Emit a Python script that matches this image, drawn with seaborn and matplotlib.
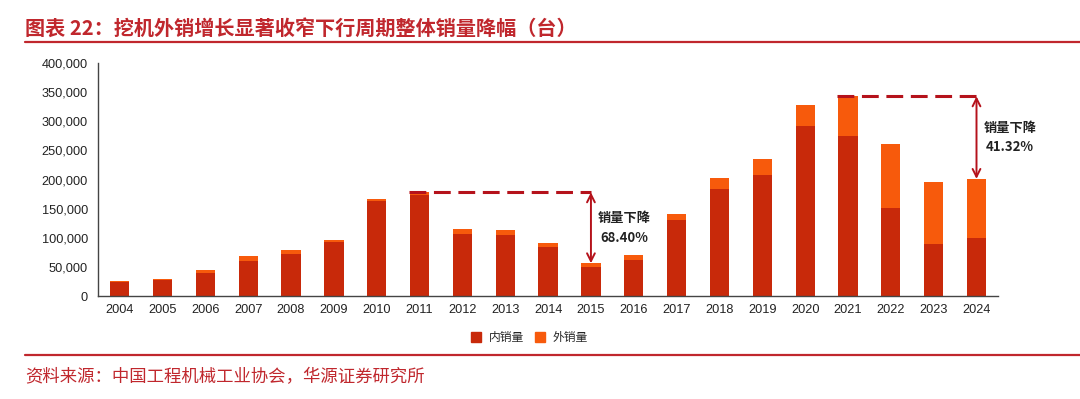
import matplotlib
matplotlib.use("Agg")
import matplotlib.pyplot as plt
from matplotlib.ticker import FuncFormatter, FixedLocator
from matplotlib.lines import Line2D
import seaborn as sns
import pandas as pd

years = [str(y) for y in range(2004, 2025)]
domestic = [24000, 28000, 39500, 60500, 72000, 93000, 163500, 173000, 106000, 104000,
            84000, 49800, 62000, 130000, 184000, 208000, 292000, 274400, 151500, 89000, 100500]
total = [26000, 29500, 45500, 68000, 78500, 95500, 167000, 178000, 115500, 113000,
         90500, 56300, 70300, 140300, 203400, 235700, 327600, 342800, 261300, 195000, 201100]

drops = [("2011", "2015", "68.40%"), ("2021", "2024", "41.32%")]

c_dom = "#C8290A"
c_exp = "#F75A0C"
c_line = "#B5121B"
c_title = "#C0272D"

sns.set_style("white")
plt.rcParams["font.family"] = ["Liberation Sans", "Noto Sans CJK SC", "DejaVu Sans"]

df = pd.DataFrame({"year": years, "domestic": domestic, "total": total})

fig = plt.figure(figsize=(10.8, 3.99), dpi=100)
ax = fig.add_axes([0.091, 0.258, 0.833, 0.584])

sns.barplot(data=df, x="year", y="total", color=c_exp, width=0.45, saturation=1,
            linewidth=0, ax=ax)
sns.barplot(data=df, x="year", y="domestic", color=c_dom, width=0.45, saturation=1,
            linewidth=0, ax=ax)

ax.set_ylim(0, 400000)
ax.set_xlim(-0.5, len(years) - 0.5)
ax.set_yticks(range(0, 400001, 50000))
ax.yaxis.set_major_formatter(FuncFormatter(lambda v, p: f"{int(v):,}"))
ax.set_xlabel("")
ax.set_ylabel("")
ax.xaxis.set_minor_locator(FixedLocator([i + 0.5 for i in range(-1, len(years))]))
ax.tick_params(axis="x", which="major", length=0, labelsize=9.2, pad=6, colors="#222222")
ax.tick_params(axis="x", which="minor", length=4, width=1, color="#444444", direction="out")
ax.tick_params(axis="y", length=4, width=1, labelsize=9.2, color="#444444", labelcolor="#222222")
for s in ["top", "right"]:
    ax.spines[s].set_visible(False)
for s in ["left", "bottom"]:
    ax.spines[s].set_color("#444444")
    ax.spines[s].set_linewidth(1)

# peak-to-trough annotations
for peak, trough, pct in drops:
    i0 = years.index(peak)
    i1 = years.index(trough)
    v0 = total[i0]
    v1 = total[i1]
    ax.hlines(v0, i0 - 0.25, i1, colors=c_line, linestyles=(0, (5.5, 2.5)), linewidth=2.2, zorder=4)
    ax.annotate("", xy=(i1, v1), xytext=(i1, v0),
                arrowprops=dict(arrowstyle="<->", color=c_line, lw=1.4, mutation_scale=14,
                                shrinkA=0, shrinkB=0), zorder=5)
    ax.text(i1 + 0.78, (v0 + v1) / 2, "销量下降\n" + pct, ha="center", va="center",
            multialignment="center", fontsize=9.5, fontweight="bold", color="#222222",
            linespacing=1.5, family=["Noto Sans CJK SC", "DejaVu Sans"])

handles = [Line2D([], [], marker="s", linestyle="", color=c_dom, markersize=7),
           Line2D([], [], marker="s", linestyle="", color=c_exp, markersize=7)]
fig.legend(handles, ["内销量", "外销量"], loc="center", bbox_to_anchor=(0.487, 0.153),
           ncol=2, frameon=False, handletextpad=0.1, columnspacing=0.3,
           prop={"family": ["Noto Sans CJK SC"], "size": 8.5})

fig.text(0.023, 0.928, "图表 22：挖机外销增长显著收窄下行周期整体销量降幅（台）",
         fontsize=14.5, fontweight="bold", color=c_title, va="center",
         family=["Noto Sans CJK SC", "DejaVu Sans"])
fig.add_artist(Line2D([0.023, 1.0], [0.895, 0.895], color=c_title, lw=1.6))
fig.add_artist(Line2D([0.023, 1.0], [0.110, 0.110], color=c_title, lw=1.6))
fig.text(0.023, 0.055, "资料来源：中国工程机械工业协会，华源证券研究所",
         fontsize=12.5, color=c_title, va="center",
         family=["Noto Sans CJK SC", "DejaVu Sans"])

fig.savefig("out.png", dpi=100)
